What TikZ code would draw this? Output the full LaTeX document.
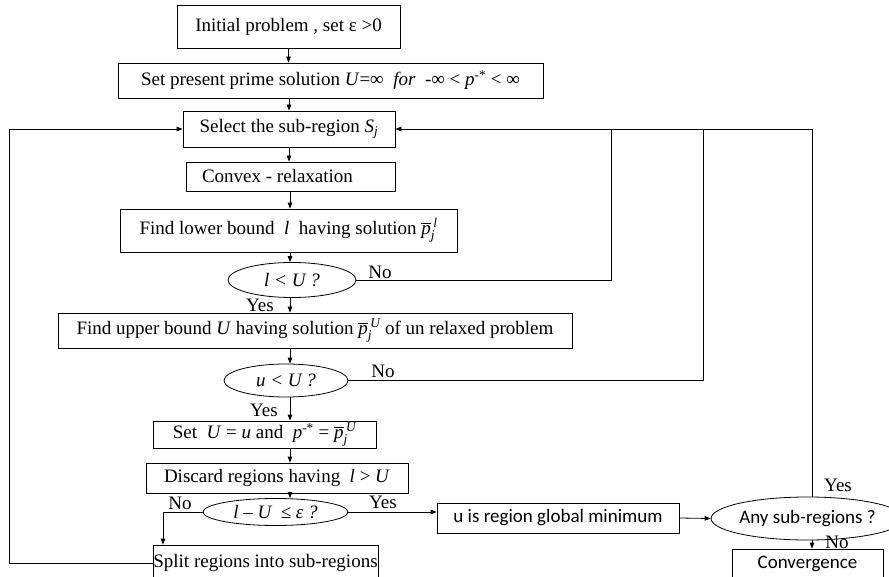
\documentclass[tikz,border=0pt]{standalone}
\usepackage{fontspec}
\usepackage{amsmath}
\setmainfont{Liberation Serif}
\newfontfamily\uisans{Carlito}
\usetikzlibrary{shapes.geometric,arrows.meta}

% italic letters inside math sub/superscripts
\newcommand{\iv}[1]{\text{\itshape #1}}
% barred solution vector p_j with a superscript
\newcommand{\pbar}[1]{$\overline{\iv{p}}_{\iv{j}}^{\,\iv{#1}}$}

\begin{document}
\begin{tikzpicture}[x=1pt,y=-1pt,
  txt/.style={font=\fontsize{19}{22}\selectfont},
  box/.style={txt, draw, line width=0.8pt, inner sep=0pt},
  sbox/.style={box, font=\fontsize{19}{22}\selectfont\uisans},
  oval/.style={txt, draw, ellipse, line width=0.8pt, inner sep=0pt, font=\fontsize{19}{22}\selectfont\itshape},
  soval/.style={oval, font=\fontsize{19}{22}\selectfont\uisans},
  lbl/.style={txt, inner sep=0pt},
  link/.style={line width=0.8pt},
  arr/.style={link, -{Triangle[length=6pt,width=4.5pt]}}]

\useasboundingbox (0,0) rectangle (889,577);
\clip (0,0) rectangle (889,577);

% main column
\node[box, minimum width=223pt, minimum height=43pt] (init) at (288.5,26.5) {Initial problem , set ε >0};
\node[box, minimum width=425pt, minimum height=35pt] (prime) at (330.5,80.5)
  {Set present prime solution \textit{U}=∞ \ \textit{for} \ -∞ < \textit{p}\textsuperscript{-*} < ∞};
\node[box, minimum width=212pt, minimum height=36pt] (select) at (289,129)
  {Select the sub-region \textit{S}\textsubscript{\textit{j}}};
\node[box, minimum width=209pt, minimum height=29pt] (convex) at (290.5,176.5)
  {\hspace*{-26pt}Convex - relaxation};
\node[box, minimum width=337pt, minimum height=43pt] (lower) at (288.5,230.5)
  {Find lower bound \ \textit{l} \ having solution \pbar{l}};
\node[oval, minimum width=128pt, minimum height=35pt] (ltu) at (292,280) {l < U ?};
\node[box, minimum width=514pt, minimum height=35pt] (upper) at (315,330.5)
  {Find upper bound \textit{U} having solution \pbar{U} of un relaxed problem};
\node[oval, minimum width=124pt, minimum height=33pt] (utu) at (286,380.5) {u < U ?};
\node[box, minimum width=223pt, minimum height=27pt] (setu) at (264.5,434.5)
  {Set \ \textit{U} = \textit{u} and \ \textit{p}\textsuperscript{-*} = \pbar{U}};
\node[box, minimum width=262pt, minimum height=30pt] (disc) at (277,478)
  {Discard regions having \ \textit{l} > \textit{U}};
\node[oval, minimum width=145pt, minimum height=27pt] (eps) at (275.5,512) {l – U \ ≤ ε ?};
\node[box, minimum width=225pt, minimum height=36pt] (split) at (265.5,563) {Split regions into sub-regions};

% right-hand branch
\node[sbox, minimum width=242pt, minimum height=30pt] (umin) at (558,518) {u is region global minimum};
\node[soval, minimum width=161pt, minimum height=43pt] (any) at (807.5,518.5) {Any sub-regions ?};
\node[sbox, minimum width=151pt, minimum height=30pt] (conv) at (807.5,564) {Convergence};

% branch labels
\node[lbl] (no1) at (380,272) {No};
\node[lbl] (yes1) at (260,305) {Yes};
\node[lbl] (no2) at (383,371) {No};
\node[lbl] (yes2) at (264,410) {Yes};
\node[lbl] (no3) at (180,503) {No};
\node[lbl] (yes3) at (383,502) {Yes};
\node[lbl] (yes4) at (838,485) {Yes};
\node[lbl] (no4) at (837,542) {No};

% routing columns
\coordinate (spine) at (290,0);
\coordinate (colA) at (611,0);
\coordinate (colB) at (703,0);
\coordinate (colC) at (812,0);
\coordinate (colN) at (163,0);
\coordinate (colL) at (9,0);

% downward flow
\draw[arr] (init.south) -- (init.south |- prime.north);
\draw[arr] (select.north |- prime.south) -- (select.north);
\draw[arr] (select.south) -- (select.south |- convex.north);
\draw[arr] (convex.south -| spine) -- (lower.north -| spine);
\draw[arr] (lower.south -| spine) -- (ltu.north -| spine);
\draw[arr] (ltu.south -| spine) -- (upper.north -| spine);
\draw[arr] (upper.south -| spine) -- (utu.north -| spine);
\draw[arr] (utu.south -| spine) -- (setu.north -| spine);
\draw[arr] (setu.south -| spine) -- (disc.north -| spine);
\draw[arr] (disc.south -| spine) -- (eps.north -| spine);

% "No" returns to the sub-region selection
\draw[link] (ltu.east) -- (ltu.east -| colA) -- (colA |- select.east);
\draw[link] (utu.east) -- (utu.east -| colB) -- (colB |- select.east);
\draw[arr] (any.north -| colC) -- (colC |- select.east) -- (select.east);

% convergence test
\draw[arr] (eps.west) -| (colN |- split.north);
\draw[arr] (eps.east) -- (umin.west |- eps.east);
\draw[arr] (umin.east) -- (any.west);
\draw[arr] (any.south -| colC) -- (conv.north -| colC);

% loop back from splitting
\draw[arr] (split.west) -- (split.west -| colL) -- (colL |- select.west) -- (select.west);

\end{tikzpicture}
\end{document}
